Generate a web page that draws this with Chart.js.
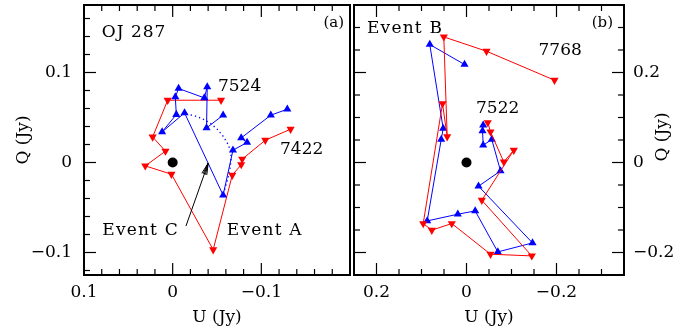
<!DOCTYPE html>
<html><head><meta charset="utf-8">
<script src="https://cdn.jsdelivr.net/npm/chart.js@4.4.0/dist/chart.umd.min.js"></script>
<style>
html,body{margin:0;padding:0;background:#fff;}
#wrap{position:relative;width:698px;height:333px;overflow:hidden;background:#fff;}
#ca{position:absolute;left:0;top:0;}
#cb{position:absolute;left:344px;top:0;}
</style></head><body>
<div id="wrap"><canvas id="ca" width="355" height="333"></canvas><canvas id="cb" width="354" height="333"></canvas></div>
<script>
// ---------- Panel (a): OJ 287, Events A and C ----------
const aRedU  = [-0.133,-0.1045,-0.0784,-0.0773,-0.0672,-0.0457,0.0014,0.0309,0.0081,0.0226,0.0056,-0.0546];
const aRedQ  = [0.037,0.0248,0.0037,-0.0024,-0.0141,-0.0969,-0.013,-0.0038,0.0126,0.0284,0.0692,0.0692];
const aBlueU = [-0.1293,-0.1107,-0.0773,-0.0839,-0.068,-0.0569,-0.0134,0.0119,-0.0041,-0.003,-0.0067,-0.0357,-0.039,-0.0382,-0.0569];
const aBlueQ = [0.0592,0.0526,0.0273,0.0222,0.0137,-0.0363,0.0551,0.034,0.0533,0.0729,0.0822,0.0718,0.084,0.0384,0.0526];
const aDotU  = [-0.0156,-0.0245,-0.0334,-0.0424,-0.0502,-0.0569,-0.0624,-0.0658,-0.0658,-0.0647,-0.0624,-0.0591,-0.0569];
const aDotQ  = [0.0537,0.052,0.0487,0.0437,0.037,0.0292,0.0203,0.0114,0.0026,-0.0063,-0.0174,-0.0286,-0.0363];
const aArrowU = [-0.015,-0.0401];
const aArrowQ = [-0.0706,-0.0006];
const aXTicks = [0.1, 0, -0.1];
const aYTicks = [0.1, 0, -0.1];

// ---------- Panel (b): Event B ----------
const bRedU  = [-0.0473,-0.0533,-0.0829,-0.1051,-0.034,-0.1451,-0.0533,0.0327,0.0771,0.0962,0.0533,0.0429,0.0504,-0.0444,-0.1956];
const bRedQ  = [0.0889,0.068,0.0013,0.0273,-0.0838,-0.2076,-0.2038,-0.1356,-0.1504,-0.1356,0.1311,0.0573,0.2791,0.2473,0.1829];
const bBlueU = [-0.0371,-0.0356,-0.0371,-0.0562,-0.0756,-0.0267,-0.1467,-0.0696,-0.0193,0.0193,0.0873,0.0562,0.0518,0.0816,0.0044];
const bBlueQ = [0.0829,0.0702,0.0384,0.0511,-0.0187,-0.0527,-0.1787,-0.1987,-0.1076,-0.1149,-0.1298,0.0511,0.0756,0.2622,0.2178];
const bXTicks = [0.2, 0, -0.2];
const bYTicks = [0.2, 0, -0.2];

const originU = [0];
const originQ = [0];

const FONT = "'DejaVu Serif'";
Chart.defaults.font.family = FONT;
Chart.defaults.font.size = 17;
Chart.defaults.color = '#000';

const pts = (u, q) => u.map((v, i) => ({x: v, y: q[i]}));
const fmt = v => v === 0 ? '0' : (v < 0 ? '\u2212' : '') + String(Math.abs(v));
const RED = '#ff0000', BLUE = '#0000ff';

function series(u, q, color, down) {
  return {data: pts(u, q), showLine: true, borderColor: color, backgroundColor: color,
    borderWidth: 1, pointStyle: 'triangle', pointRotation: down ? 180 : 0,
    pointRadius: 4.7, pointBorderWidth: 0, tension: 0};
}

const framePlugin = {
  id: 'frame',
  afterDatasetsDraw(chart, args, o) {
    const {ctx, chartArea: ca, scales: {x, y}} = chart;
    ctx.save();
    // arrow head
    chart.data.datasets.forEach((ds, di) => {
      if (ds.label !== 'arrow') return;
      const el = chart.getDatasetMeta(di).data;
      const p0 = el[el.length - 2], p1 = el[el.length - 1];
      const ang = Math.atan2(p1.y - p0.y, p1.x - p0.x);
      ctx.strokeStyle = '#000'; ctx.lineWidth = 1;
      [-0.22, -0.1, 0.1, 0.22].forEach(d => {
        ctx.beginPath(); ctx.moveTo(p1.x, p1.y);
        ctx.lineTo(p1.x - 12 * Math.cos(ang + d), p1.y - 12 * Math.sin(ang + d));
        ctx.stroke();
      });
    });
    // tick marks (inward)
    ctx.strokeStyle = '#000'; ctx.lineWidth = 1.2;
    const each = (scale, step, major, fn) => {
      const lo = Math.min(scale.min, scale.max), hi = Math.max(scale.min, scale.max);
      for (let k = Math.ceil(lo / step - 1e-6); k <= Math.floor(hi / step + 1e-6); k++) {
        const v = k * step;
        if (Math.abs(v - lo) < 1e-6 || Math.abs(v - hi) < 1e-6) continue;
        const isMaj = Math.abs(v / major - Math.round(v / major)) < 1e-6;
        fn(scale.getPixelForValue(v), isMaj ? 12 : 6);
      }
    };
    const line = (x1, y1, x2, y2) => { ctx.beginPath(); ctx.moveTo(x1, y1); ctx.lineTo(x2, y2); ctx.stroke(); };
    each(x, o.xStep, o.xMajor, (px, L) => {
      line(px, ca.bottom, px, ca.bottom - L);
      line(px, ca.top, px, ca.top + L);
    });
    each(y, o.yStep, o.yMajor, (py, L) => {
      line(ca.left, py, ca.left + L, py);
      if (o.rightTicks) line(ca.right, py, ca.right - L, py);
    });
    // frame
    ctx.lineWidth = 2;
    ctx.strokeRect(ca.left, ca.top, ca.right - ca.left, ca.bottom - ca.top);
    // notes
    ctx.fillStyle = '#000';
    ctx.textBaseline = 'alphabetic';
    (o.notes || []).forEach(n => {
      ctx.font = (n.size || 17) + 'px ' + FONT;
      ctx.textAlign = n.align || 'left';
      ctx.letterSpacing = n.spacing || '0px';
      ctx.fillText(n.text, x.getPixelForValue(n.u), y.getPixelForValue(n.q));
    });
    ctx.letterSpacing = '0px';
    // right-hand rotated axis title
    if (o.rightTitle) {
      ctx.font = '17px ' + FONT;
      ctx.textAlign = 'center'; ctx.textBaseline = 'middle';
      ctx.translate(y.left + 39, (ca.top + ca.bottom) / 2 - 3);
      ctx.rotate(-Math.PI / 2);
      ctx.fillText(o.rightTitle, 0, 0);
    }
    ctx.restore();
  }
};

function noPad(s) { s.paddingTop = 0; s.paddingBottom = 0; s.paddingLeft = 0; s.paddingRight = 0; }

function makeScales(xr, yr, xt, yt, yPos, yWidth, yTitle) {
  return {
    x: {type: 'linear', position: 'bottom', reverse: true, min: xr[0], max: xr[1],
      grid: {display: false, drawTicks: false}, border: {display: false},
      ticks: {padding: 7, autoSkip: false, maxRotation: 0, callback: fmt},
      afterBuildTicks: s => { s.ticks = xt.map(v => ({value: v})); },
      afterFit: s => { s.height = 58; noPad(s); },
      title: {display: true, text: 'U (Jy)', padding: {top: 0, bottom: 5}}},
    y: {type: 'linear', position: yPos, min: yr[0], max: yr[1],
      grid: {display: false, drawTicks: false}, border: {display: false},
      ticks: {padding: yPos === 'left' ? 12 : 9, autoSkip: false, callback: fmt},
      afterBuildTicks: s => { s.ticks = yt.map(v => ({value: v})); },
      afterFit: s => { s.width = yWidth; noPad(s); },
      title: {display: yTitle, text: 'Q (Jy)', padding: {top: 13, bottom: 0}}}
  };
}

new Chart(document.getElementById('ca'), {
  type: 'scatter',
  data: {datasets: [
    Object.assign(series(aBlueU, aBlueQ, BLUE, false), {order: 1}),
    Object.assign(series(aRedU, aRedQ, RED, true), {order: 2}),
    {data: pts(aDotU, aDotQ), showLine: true, borderColor: BLUE, borderWidth: 1.3,
      borderDash: [1.3, 3], pointRadius: 0, order: 3},
    {label: 'arrow', data: pts(aArrowU, aArrowQ), showLine: true, borderColor: '#000',
      borderWidth: 1, pointRadius: 0, order: 0},
    {data: pts(originU, originQ), pointRadius: 5, backgroundColor: '#000', borderWidth: 0, order: 0}
  ]},
  options: {
    responsive: false, animation: false, devicePixelRatio: 1,
    layout: {padding: {left: 0, right: 1, top: 5, bottom: 0}},
    scales: makeScales([-0.2, 0.1], [-0.125, 0.175], aXTicks, aYTicks, 'left', 84, true),
    plugins: {legend: {display: false}, tooltip: {enabled: false},
      frame: {xStep: 0.02, xMajor: 0.1, yStep: 0.02, yMajor: 0.1, rightTicks: false,
        notes: [
          {text: 'OJ 287', u: 0.08, q: 0.1394, spacing: '1px'},
          {text: '(a)', u: -0.1933, q: 0.1506, align: 'right', size: 15},
          {text: '7524', u: -0.0511, q: 0.0794},
          {text: '7422', u: -0.1211, q: 0.0094},
          {text: 'Event C', u: 0.0794, q: -0.0806, spacing: '1.2px'},
          {text: 'Event A', u: -0.0611, q: -0.0806, spacing: '1.2px'}
        ]}}
  },
  plugins: [framePlugin]
});

new Chart(document.getElementById('cb'), {
  type: 'scatter',
  data: {datasets: [
    Object.assign(series(bBlueU, bBlueQ, BLUE, false), {order: 2}),
    Object.assign(series(bRedU, bRedQ, RED, true), {order: 1}),
    {data: pts(originU, originQ), pointRadius: 5, backgroundColor: '#000', borderWidth: 0, order: 0}
  ]},
  options: {
    responsive: false, animation: false, devicePixelRatio: 1,
    layout: {padding: {left: 10, right: 0, top: 5, bottom: 0}},
    scales: makeScales([-0.35, 0.25], [-0.25, 0.35], bXTicks, bYTicks, 'right', 74, false),
    plugins: {legend: {display: false}, tooltip: {enabled: false},
      frame: {xStep: 0.05, xMajor: 0.2, yStep: 0.05, yMajor: 0.2, rightTicks: true,
        rightTitle: 'Q (Jy)',
        notes: [
          {text: 'Event B', u: 0.2211, q: 0.2878, spacing: '1.2px'},
          {text: '(b)', u: -0.3256, q: 0.3011, align: 'right', size: 15},
          {text: '7768', u: -0.16, q: 0.2389},
          {text: '7522', u: -0.0211, q: 0.11}
        ]}}
  },
  plugins: [framePlugin]
});
</script>
</body></html>
